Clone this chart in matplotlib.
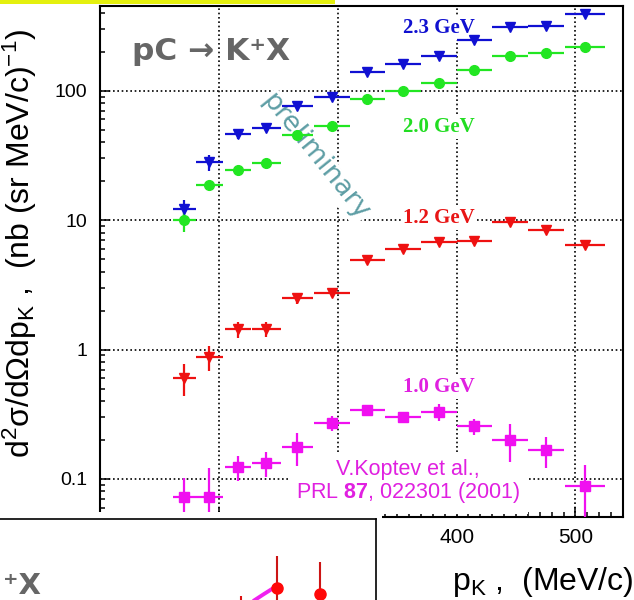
import matplotlib
matplotlib.use("Agg")
import matplotlib.pyplot as plt
from matplotlib.ticker import LogLocator, MultipleLocator, NullFormatter, FixedLocator, FixedFormatter
from matplotlib.patches import Rectangle

plt.rcParams['font.family'] = ['Liberation Sans', 'DejaVu Sans']
plt.rcParams['mathtext.fontset'] = 'custom'
plt.rcParams['mathtext.rm'] = 'Liberation Sans'
plt.rcParams['mathtext.it'] = 'Liberation Sans:italic'
plt.rcParams['mathtext.bf'] = 'Liberation Sans:bold'

# ---- kaon momentum bins (MeV/c) ----
p_center = [171, 192, 216, 240, 266, 295, 325, 355, 385, 415, 445, 475, 508]
p_halfwidth = [10, 11.5, 11, 12, 13, 15, 15, 15, 15, 15, 15, 15, 16.5]

# ---- double-differential cross sections, nb/(sr MeV/c) ----
xs_23 = [12.2, 28.1, 46.3, 51.8, 76.2, 89.9, 140, 160, 187, 247, 313, 316, 390]
err_23 = [2.2, 4.0, 4.0, 3.0, 3.5, 4, 5, 5, 6, 6, 7, 7, 8]
xs_20 = [10.0, 18.7, 24.4, 27.9, 45.4, 53.6, 86.3, 99.5, 115, 144.5, 186, 194.5, 219]
err_20 = [1.9, 1.2, 1.2, 1.3, 2, 2, 3, 3, 3, 4, 4, 5, 5]
xs_12 = [0.607, 0.877, 1.436, 1.45, 2.49, 2.74, 4.91, 5.97, 6.73, 6.88, 9.6, 8.37, 6.41]
err_12 = [0.17, 0.19, 0.21, 0.19, 0.24, 0.2, 0.3, 0.4, 0.3, 0.35, 0.3, 0.3, 0.35]
xs_10 = [0.0724, 0.0724, 0.1236, 0.1328, 0.1766, 0.270, 0.340, 0.301, 0.329, 0.256, 0.199, 0.166, 0.0877]
err_10 = [0.029, 0.05, 0.027, 0.03, 0.05, 0.034, 0.03, 0.02, 0.05, 0.037, 0.065, 0.045, 0.04]

beam_labels = ["2.3 GeV", "2.0 GeV", "1.2 GeV", "1.0 GeV"]
x_ticks = [100, 200, 300, 400, 500]
x_ticklabels = ["100", "200", "300", "400", "500"]
y_ticks = [0.1, 1, 10, 100]
y_ticklabels = ["0.1", "1", "10", "100"]

# ---- partial neighbouring panel (arbitrary units) ----
nb_pts_x = [74.1, 85.3]
nb_pts_y = [2.45, 1.77]
nb_pts_err = [3.5, 3.54]
nb_curve_x = [67.9, 70.5, 73.6]
nb_curve_y = [1.02, 1.73, 2.55]
nb_bar_x = [64.6]
nb_bar_top = [1.5]

W, H = 634, 600
fig = plt.figure(figsize=(W / 100, H / 100), dpi=100)


def fx(x):
    return x / W


def fy(y):
    return 1 - y / H


# top banner strip
fig.add_artist(Rectangle((0, fy(3.5)), fx(335), 3.5 / H, transform=fig.transFigure,
                         facecolor='#e4f00e', edgecolor='none', zorder=0))

ax = fig.add_axes([fx(100), fy(517), fx(523), (517 - 6) / H])
ax.set_yscale('log')
ax.set_xlim(100, 540)
ax.set_ylim(0.0508, 452)

for s in ax.spines.values():
    s.set_linewidth(1.5)

ax.xaxis.set_major_locator(FixedLocator(x_ticks))
ax.xaxis.set_major_formatter(FixedFormatter(x_ticklabels))
ax.xaxis.set_minor_locator(MultipleLocator(10))
ax.yaxis.set_major_locator(FixedLocator(y_ticks))
ax.yaxis.set_major_formatter(FixedFormatter(y_ticklabels))
ax.yaxis.set_minor_locator(LogLocator(base=10, subs=range(2, 10), numticks=20))
ax.yaxis.set_minor_formatter(NullFormatter())
ax.tick_params(which='both', direction='in', top=False, right=False, width=1.1)
ax.tick_params(which='major', length=7.5)
ax.tick_params(which='minor', length=3.3)
ax.tick_params(axis='y', pad=9, labelsize=14)
ax.tick_params(axis='x', pad=8, labelsize=15)

ax.grid(True, which='major', color='black', linestyle=(0, (1, 1.6)), linewidth=1.2)
ax.set_axisbelow(True)

series = [
    (xs_23, err_23, 'v', '#1010d2', 7.5),
    (xs_20, err_20, 'o', '#22e622', 7),
    (xs_12, err_12, 'v', '#ee1111', 7.5),
    (xs_10, err_10, 's', '#f010f0', 6.5),
]
for vals, errs, mk, col, ms in series:
    ax.errorbar(p_center, vals, xerr=p_halfwidth, yerr=errs, fmt=mk, color=col,
                ms=ms, elinewidth=1.6, capsize=0, zorder=4)

label_cols = ['#1010d0', '#22dd22', '#e81515', '#e020e0']
label_pos = [(403, 28), (403, 127), (403, 218), (403, 387)]
for txt, col, (x, y) in zip(beam_labels, label_cols, label_pos):
    ax.text(fx(x), fy(y), txt, transform=fig.transFigure, ha='left', va='center',
            fontsize=15, fontweight='bold', family='Liberation Serif', color=col,
            bbox=dict(facecolor='white', edgecolor='none', pad=1.5), zorder=2)

ax.text(fx(315), fy(157), "preliminary", transform=fig.transFigure, rotation=-51,
        rotation_mode='anchor', ha='center', va='center', fontsize=19.5,
        family='DejaVu Sans', color='#5e9ea5',
        bbox=dict(facecolor='white', edgecolor='none', pad=0.5), zorder=2)

ax.text(fx(408), fy(482), "V.Koptev et al.,\nPRL $\\mathbf{87}$, 022301 (2001)",
        transform=fig.transFigure, ha='center', va='center', multialignment='center',
        fontsize=15.5, color='#e020e0', linespacing=1.05,
        bbox=dict(facecolor='white', edgecolor='none', pad=6), zorder=2)

fig.text(fx(132), fy(52), "pC \u2192 K\u207aX", ha='left', va='center', fontsize=22.5,
         fontweight='bold', family='DejaVu Sans', color='#666666')

fig.text(fx(20), fy(243), "d$^2$\u03c3/d\u03a9dp$_{\\mathrm{K}}$ ,  (nb (sr MeV/c)$^{-1}$)",
         rotation=90, ha='center', va='center', fontsize=23)
fig.text(fx(634), fy(582), "p$_{\\mathrm{K}}$ ,  (MeV/c)", ha='right', va='center', fontsize=23)

# neighbouring panel partially covering the lower-left corner
fig.add_artist(Rectangle((0, 0), fx(382), 88 / H, transform=fig.transFigure,
                         facecolor='white', edgecolor='none', zorder=1))
ax2 = fig.add_axes([fx(-5), -10 / H, fx(381), 91 / H])
ax2.set_zorder(2)
ax2.set_xlim(0, 100)
ax2.set_ylim(0, 10)
ax2.set_xticks([])
ax2.set_yticks([])
for s in ax2.spines.values():
    s.set_linewidth(1.2)
ax2.plot(nb_curve_x, nb_curve_y, color='#f020f0', lw=2.8, solid_capstyle='round')
ax2.vlines(nb_bar_x, -1, nb_bar_top, color='#dd1111', lw=1.5)
ax2.errorbar(nb_pts_x, nb_pts_y, yerr=nb_pts_err, fmt='o', color='#ff0808',
             ecolor='#cc1515', ms=8, elinewidth=1.5, capsize=0)
ax2.text(fx(3), fy(586), "\u207aX", transform=fig.transFigure,
         ha='left', va='center', fontsize=21, fontweight='bold',
         family='DejaVu Sans', color='#666666')

fig.savefig("out.png", dpi=100)
